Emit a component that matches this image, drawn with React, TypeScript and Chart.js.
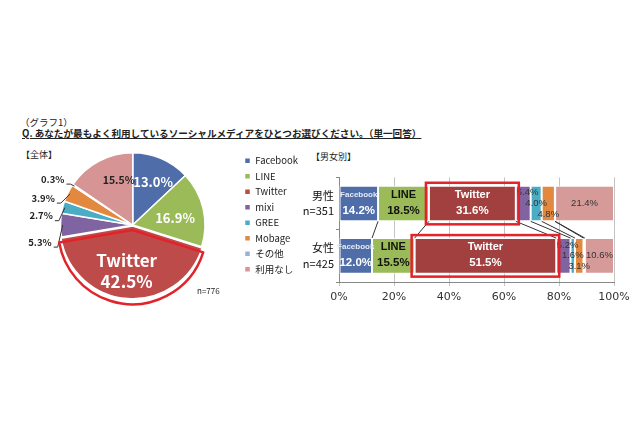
import React, { useEffect, useRef } from 'react';
import { Chart, registerables } from 'chart.js';

Chart.register(...registerables);

// ---------- data ----------
const categories = ['Facebook', 'LINE', 'Twitter', 'mixi', 'GREE', 'Mobage', 'その他', '利用なし'];
const totalValues = [13.0, 16.9, 42.5, 5.3, 2.7, 3.9, 0.3, 15.5];
const totalSampleLabel = 'n=776';
const genderLabels = [['男性', 'n=351'], ['女性', 'n=425']];
const maleValues = [14.2, 18.5, 31.6, 5.4, 4.0, 4.8, 0.1, 21.4];
const femaleValues = [12.0, 15.5, 51.5, 5.2, 1.6, 3.1, 0.5, 10.6];
const xTickMin = 0;
const xTickMax = 100;
const xTickStep = 20;

const titleSmall = '（グラフ1）';
const titleMain = 'Q. あなたが最もよく利用しているソーシャルメディアをひとつお選びください。（単一回答）';
const pieHeading = '【全体】';
const barHeading = '【男女別】';

// ---------- styles ----------
const pieColors = ['#4F6DA9', '#9BBB59', '#BC4B49', '#8064A2', '#4BACC6', '#E2893F', '#95B3D7', '#D69594'];
const barColors = ['#4F6DA9', '#9BBB59', '#A2403F', '#8064A2', '#4BACC6', '#E2893F', '#95B3D7', '#D69A99'];
const HIGHLIGHT = '#E2232A';
const FONT = '"Noto Sans CJK JP", "Noto Sans", sans-serif';
const LAT = '"Liberation Sans", Arial, sans-serif';
const HIGHLIGHT_INDEX = 2;

type PieLabelStyle = {
  kind: 'inside' | 'named' | 'outside';
  r?: number;
  font?: string;
  color?: string;
  dx?: number;
  dy?: number;
};

const pieLabelStyles: PieLabelStyle[] = [
  { kind: 'inside', r: 0.64, font: `bold 13px ${FONT}`, color: '#ffffff', dx: 2 },
  { kind: 'inside', r: 0.6, font: `bold 13px ${FONT}`, color: '#ffffff', dy: 3 },
  { kind: 'named', r: 0.58, font: `bold 17px ${FONT}`, color: '#ffffff' },
  { kind: 'outside', dx: -11, dy: 17 },
  { kind: 'outside', dx: -12, dy: 8 },
  { kind: 'outside', dx: -15, dy: 4 },
  { kind: 'outside', dx: -10, dy: -7 },
  { kind: 'inside', r: 0.68, font: `bold 10.5px ${FONT}`, color: '#222222', dx: 9, dy: -2 },
];

type BarLabelStyle = {
  kind: 'named' | 'top' | 'mid' | 'bottom' | 'center' | 'none';
  nameFont?: string;
  nameColor?: string;
  valueColor?: string;
};

const barLabelStyles: BarLabelStyle[] = [
  { kind: 'named', nameFont: `bold 8px ${LAT}`, nameColor: '#e6ebf5', valueColor: '#ffffff' },
  { kind: 'named', nameFont: `bold 11px ${LAT}`, nameColor: '#111111', valueColor: '#111111' },
  { kind: 'named', nameFont: `bold 11px ${LAT}`, nameColor: '#ffffff', valueColor: '#ffffff' },
  { kind: 'top' },
  { kind: 'mid' },
  { kind: 'bottom' },
  { kind: 'none' },
  { kind: 'center' },
];

const fmt = (v: number) => v.toFixed(1) + '%';

// ---------- plugins ----------
const pieLabelPlugin = {
  id: 'pieLabels',
  afterDatasetsDraw(chart: any) {
    const ctx = chart.ctx as CanvasRenderingContext2D;
    const meta = chart.getDatasetMeta(0);
    const data = chart.data.datasets[0].data as number[];
    meta.data.forEach((arc: any, i: number) => {
      const p = arc.getProps(['x', 'y', 'startAngle', 'endAngle', 'outerRadius'], true);
      const mid = (p.startAngle + p.endAngle) / 2;
      const off = arc.options.offset || 0;
      const cx = p.x + Math.cos(mid) * off;
      const cy = p.y + Math.sin(mid) * off;
      const st = pieLabelStyles[i];
      const txt = fmt(data[i]);
      ctx.save();
      ctx.textBaseline = 'middle';
      if (st.kind === 'inside') {
        const r = p.outerRadius * (st.r || 0.6);
        ctx.font = st.font!;
        ctx.fillStyle = st.color!;
        ctx.textAlign = 'center';
        ctx.fillText(txt, cx + Math.cos(mid) * r + (st.dx || 0), cy + Math.sin(mid) * r + (st.dy || 0));
      } else if (st.kind === 'named') {
        const r = p.outerRadius * (st.r || 0.6);
        const bx = cx + Math.cos(mid) * r;
        const by = cy + Math.sin(mid) * r;
        ctx.font = st.font!;
        ctx.fillStyle = st.color!;
        ctx.textAlign = 'center';
        ctx.fillText(chart.data.labels[i], bx - 3, by - 10);
        ctx.fillText(txt, bx - 3, by + 11);
      } else if (st.kind === 'outside') {
        const ex = cx + Math.cos(mid) * p.outerRadius * 0.97;
        const ey = cy + Math.sin(mid) * p.outerRadius * 0.97;
        const tx = ex + (st.dx || 0);
        const ty = ey + (st.dy || 0);
        ctx.font = `bold 9.5px ${FONT}`;
        ctx.fillStyle = '#222222';
        ctx.textAlign = 'right';
        ctx.fillText(txt, tx, ty);
        ctx.strokeStyle = '#333333';
        ctx.lineWidth = 1;
        ctx.beginPath();
        ctx.moveTo(tx + 2, ty + 5);
        ctx.lineTo(tx + 6, ty + 5);
        ctx.lineTo(ex, ey);
        ctx.stroke();
      }
      ctx.restore();
    });
    // highlight outline around Twitter slice
    const arc = meta.data[HIGHLIGHT_INDEX];
    if (arc) {
      const p = arc.getProps(['x', 'y', 'startAngle', 'endAngle', 'outerRadius'], true);
      const mid = (p.startAngle + p.endAngle) / 2;
      const off = arc.options.offset || 0;
      const cx = p.x + Math.cos(mid) * (off + 1);
      const cy = p.y + Math.sin(mid) * (off + 1);
      ctx.save();
      ctx.strokeStyle = HIGHLIGHT;
      ctx.lineWidth = 2.5;
      ctx.lineJoin = 'round';
      ctx.beginPath();
      ctx.moveTo(cx, cy);
      ctx.arc(cx, cy, p.outerRadius + 2, p.startAngle, p.endAngle);
      ctx.closePath();
      ctx.stroke();
      ctx.restore();
    }
  },
};

const barLabelPlugin = {
  id: 'barLabels',
  afterDatasetsDraw(chart: any) {
    const ctx = chart.ctx as CanvasRenderingContext2D;
    const n = chart.data.datasets.length;
    const geo = (d: number, k: number) => {
      const el = chart.getDatasetMeta(d).data[k];
      const p = el.getProps(['x', 'y', 'base', 'height'], true);
      const left = Math.min(p.x, p.base);
      const right = Math.max(p.x, p.base);
      return { left, right, top: p.y - p.height / 2, bottom: p.y + p.height / 2, cy: p.y, cx: (left + right) / 2 };
    };
    // series lines
    ctx.save();
    ctx.strokeStyle = '#333333';
    ctx.lineWidth = 1;
    for (let d = 0; d < n - 1; d++) {
      const a = geo(d, 0);
      const b = geo(d, 1);
      ctx.beginPath();
      ctx.moveTo(a.right, a.bottom);
      ctx.lineTo(b.right, b.top);
      ctx.stroke();
    }
    ctx.restore();

    // labels
    for (let d = 0; d < n; d++) {
      const st = barLabelStyles[d];
      const ds = chart.data.datasets[d];
      for (let k = 0; k < ds.data.length; k++) {
        const g = geo(d, k);
        const txt = fmt(ds.data[k]);
        ctx.save();
        ctx.textAlign = 'center';
        ctx.textBaseline = 'middle';
        if (st.kind === 'named') {
          ctx.font = st.nameFont!;
          ctx.fillStyle = st.nameColor!;
          ctx.fillText(ds.label, g.cx, g.top + 9);
          ctx.font = `bold 11.5px ${LAT}`;
          ctx.fillStyle = st.valueColor!;
          ctx.fillText(txt, g.cx, g.cy + 7);
        } else if (st.kind !== 'none') {
          ctx.font = `9.5px ${LAT}`;
          ctx.fillStyle = '#333333';
          const y = st.kind === 'top' ? g.top + 7 : st.kind === 'bottom' ? g.bottom - 7 : g.cy;
          const x = st.kind === 'top' ? g.right - 3 : g.cx;
          ctx.fillText(txt, x, y);
        }
        ctx.restore();
      }
    }

    // highlight boxes
    ctx.save();
    ctx.strokeStyle = HIGHLIGHT;
    ctx.lineWidth = 2.5;
    const hds = chart.data.datasets[HIGHLIGHT_INDEX];
    for (let k = 0; k < hds.data.length; k++) {
      const g = geo(HIGHLIGHT_INDEX, k);
      ctx.strokeRect(g.left - 3, g.top - 3, g.right - g.left + 6, g.bottom - g.top + 6);
    }
    ctx.restore();
  },
};

// ---------- components ----------
function PieChart() {
  const ref = useRef<HTMLCanvasElement>(null);
  useEffect(() => {
    if (!ref.current) return;
    const chart = new Chart(ref.current, {
      type: 'pie',
      data: {
        labels: categories,
        datasets: [
          {
            data: totalValues,
            backgroundColor: pieColors,
            borderColor: '#ffffff',
            borderWidth: 1.5,
            offset: categories.map((_, i) => (i === HIGHLIGHT_INDEX ? 4 : 0)),
          },
        ],
      },
      options: {
        responsive: false,
        animation: false,
        layout: { padding: { left: 27, top: 10, bottom: 15, right: 2 } },
        plugins: {
          tooltip: { enabled: false },
          legend: {
            position: 'right',
            align: 'start',
            labels: {
              boxWidth: 6,
              boxHeight: 6,
              padding: 6,
              color: '#222222',
              font: { size: 9.5, family: FONT },
            },
          },
        },
      },
      plugins: [pieLabelPlugin],
    } as any);
    return () => chart.destroy();
  }, []);
  return <canvas ref={ref} width={310} height={175} style={{ position: 'absolute', left: 0, top: 140 }} />;
}

function BarChart() {
  const ref = useRef<HTMLCanvasElement>(null);
  useEffect(() => {
    if (!ref.current) return;
    const chart = new Chart(ref.current, {
      type: 'bar',
      data: {
        labels: genderLabels,
        datasets: categories.map((c, i) => ({
          label: c,
          data: [maleValues[i], femaleValues[i]],
          backgroundColor: barColors[i],
          borderColor: '#ffffff',
          borderWidth: 1,
          borderSkipped: false,
          barPercentage: 0.68,
          categoryPercentage: 1,
        })),
      },
      options: {
        indexAxis: 'y',
        responsive: false,
        animation: false,
        layout: { padding: { top: 12, right: 26, left: 0, bottom: 0 } },
        plugins: { legend: { display: false }, tooltip: { enabled: false } },
        scales: {
          x: {
            stacked: true,
            min: xTickMin,
            max: xTickMax,
            ticks: {
              stepSize: xTickStep,
              callback: (v: any) => v + '%',
              color: '#333333',
              font: { size: 11, family: '"DejaVu Sans", sans-serif' },
              padding: 5,
            },
            grid: { color: '#c4c4c4', tickLength: 4 },
            border: { color: '#888888' },
            afterFit: (s: any) => {
              s.height = 28;
            },
          },
          y: {
            stacked: true,
            ticks: {
              color: '#111111',
              font: { size: 11, family: FONT, lineHeight: 1.4 },
              padding: 2,
            },
            grid: { drawOnChartArea: false, tickLength: 3, color: '#888888' },
            border: { color: '#888888' },
            afterFit: (s: any) => {
              s.width = 39;
            },
          },
        },
      },
      plugins: [barLabelPlugin],
    } as any);
    return () => chart.destroy();
  }, []);
  return <canvas ref={ref} width={340} height={150} style={{ position: 'absolute', left: 300, top: 160 }} />;
}

const txt = (left: number, top: number, size: number, extra: React.CSSProperties = {}): React.CSSProperties => ({
  position: 'absolute',
  left,
  top,
  fontSize: size,
  lineHeight: '12px',
  whiteSpace: 'nowrap',
  fontFamily: FONT,
  color: '#222222',
  ...extra,
});

export default function App() {
  return (
    <div style={{ position: 'absolute', left: 0, top: 0, width: 640, height: 426, background: '#ffffff', overflow: 'hidden' }}>
      <div style={txt(20, 116, 9.5)}>{titleSmall}</div>
      <div style={txt(22, 127, 9.6, { fontWeight: 'bold', textDecoration: 'underline' })}>{titleMain}</div>
      <div style={txt(21, 149, 9)}>{pieHeading}</div>
      <div style={txt(311, 151, 9)}>{barHeading}</div>
      <PieChart />
      <div style={txt(197, 285, 8)}>{totalSampleLabel}</div>
      <BarChart />
    </div>
  );
}
